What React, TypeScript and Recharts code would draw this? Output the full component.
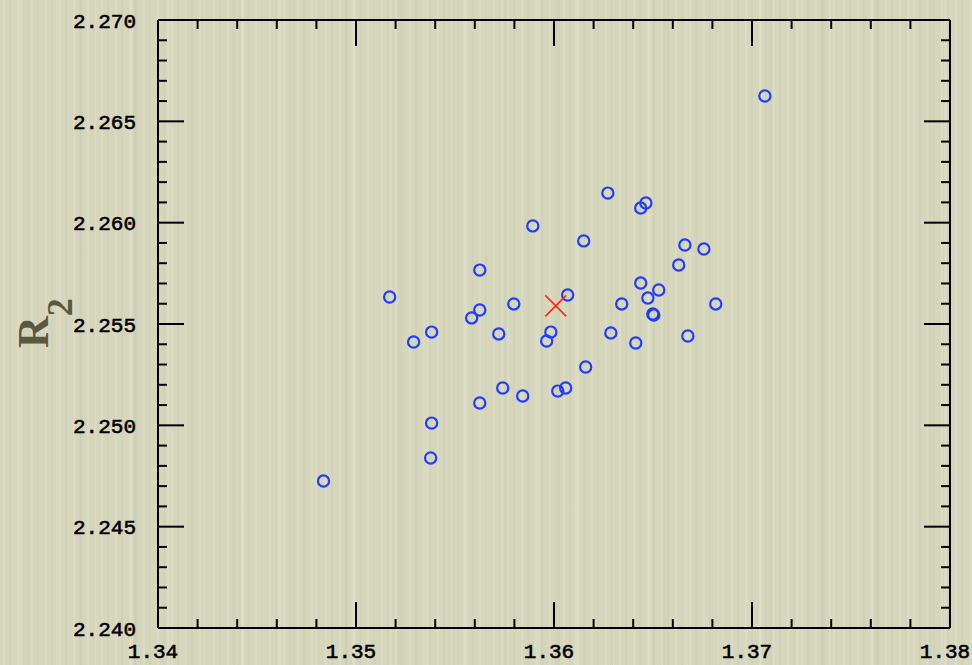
import { ScatterChart, Scatter, XAxis, YAxis } from 'recharts'

// axis labels (major ticks); minor ticks are filled in between at a fixed step
const xMajor = [1.34, 1.35, 1.36, 1.37, 1.38]
const yMajor = [2.24, 2.245, 2.25, 2.255, 2.26, 2.265, 2.27]
const X_MINOR_STEP = 0.002
const Y_MINOR_STEP = 0.001

// individual measurements
const r1Values = [
  1.37065, 1.36272, 1.36464, 1.36438, 1.35893, 1.3615, 1.36661, 1.36757, 1.3663, 1.35625,
  1.36438, 1.36529, 1.36069, 1.3517, 1.36474, 1.35797, 1.36342, 1.36817, 1.35625, 1.35584,
  1.36499, 1.36504, 1.35382, 1.35721, 1.35984, 1.36287, 1.35963, 1.36676, 1.35291, 1.36413,
  1.3616, 1.35741, 1.36059, 1.36019, 1.35842, 1.35625, 1.35382, 1.35377, 1.34836,
]
const r2Values = [
  2.26625, 2.26146, 2.26097, 2.26072, 2.25984, 2.2591, 2.2589, 2.2587, 2.25791, 2.25766,
  2.25702, 2.25668, 2.25643, 2.25633, 2.25628, 2.25599, 2.25599, 2.25599, 2.25569, 2.2553,
  2.25549, 2.25544, 2.2546, 2.25451, 2.2546, 2.25456, 2.25416, 2.25441, 2.25411, 2.25406,
  2.25288, 2.25184, 2.25184, 2.25169, 2.25145, 2.2511, 2.25011, 2.24839, 2.24725,
]

// mean value, marked with a cross
const meanR1 = [1.36009]
const meanR2 = [2.25589]

const points = r1Values.map((r1, i) => ({ r1, r2: r2Values[i] }))
const mean = meanR1.map((r1, i) => ({ r1, r2: meanR2[i] }))

const stepTicks = (vals: number[], step: number) => {
  const lo = vals[0]
  const hi = vals[vals.length - 1]
  const n = Math.round((hi - lo) / step)
  return Array.from({ length: n + 1 }, (_, i) => +(lo + i * step).toFixed(4))
}
const xTicks = stepTicks(xMajor, X_MINOR_STEP)
const yTicks = stepTicks(yMajor, Y_MINOR_STEP)

const isMajor = (v: number, majors: number[]) => majors.some((m) => Math.abs(m - v) < 1e-7)

const MAJOR = 26
const MINOR = 9
const TICK_W = 2
const INK = '#000'
const labelStyle = {
  fontFamily: '"Liberation Mono", "DejaVu Sans Mono", monospace',
  fontSize: 21,
  fill: INK,
  stroke: INK,
  strokeWidth: 0.6,
}

const BottomTick = ({ x, y, payload }: any) => {
  const major = isMajor(payload.value, xMajor)
  return (
    <g>
      <line x1={x} x2={x} y1={y} y2={y - (major ? MAJOR : MINOR)} stroke={INK} strokeWidth={TICK_W} />
      {major && (
        <text x={x - 5} y={y + 30} textAnchor="middle" {...labelStyle}>
          {payload.value.toFixed(2)}
        </text>
      )}
    </g>
  )
}

const TopTick = ({ x, y, payload }: any) => {
  const major = isMajor(payload.value, xMajor)
  return <line x1={x} x2={x} y1={y} y2={y + (major ? MAJOR : MINOR)} stroke={INK} strokeWidth={TICK_W} />
}

const LeftTick = ({ x, y, payload }: any) => {
  const major = isMajor(payload.value, yMajor)
  return (
    <g>
      <line x1={x} x2={x + (major ? MAJOR : MINOR)} y1={y} y2={y} stroke={INK} strokeWidth={TICK_W} />
      {major && (
        <text x={x - 22} y={y + 7.5} textAnchor="end" {...labelStyle}>
          {payload.value.toFixed(3)}
        </text>
      )}
    </g>
  )
}

const RightTick = ({ x, y, payload }: any) => {
  const major = isMajor(payload.value, yMajor)
  return <line x1={x} x2={x - (major ? MAJOR : MINOR)} y1={y} y2={y} stroke={INK} strokeWidth={TICK_W} />
}

const OpenCircle = ({ cx, cy }: any) => (
  <circle cx={cx} cy={cy} r={5.6} fill="none" stroke="#1f3cff" strokeWidth={2.2} />
)

const Cross = ({ cx, cy }: any) => {
  const h = 10.5
  return (
    <g stroke="#ff2a12" strokeWidth={1.7}>
      <line x1={cx - h} y1={cy - h} x2={cx + h} y2={cy + h} />
      <line x1={cx - h} y1={cy + h} x2={cx + h} y2={cy - h} />
    </g>
  )
}

// soft vertical fibres of the paper backdrop
const paper = [
  'repeating-linear-gradient(90deg, transparent 0px 3px, rgba(250,250,232,0.16) 3px 5px, transparent 5px 9px, rgba(120,120,90,0.05) 9px 11px, transparent 11px 14px)',
  'repeating-linear-gradient(90deg, transparent 0px 19px, rgba(250,250,232,0.14) 19px 22px, transparent 22px 37px)',
  'repeating-linear-gradient(90deg, transparent 0px 27px, rgba(130,130,100,0.05) 27px 30px, transparent 30px 53px)',
  '#d6d6bd',
].join(', ')

const axisProps = {
  type: 'number' as const,
  interval: 0 as const,
  allowDataOverflow: true,
  tickSize: 0,
  tickMargin: 0,
  tickLine: false,
  axisLine: { stroke: INK, strokeWidth: 2 },
}

export default function App() {
  return (
    <div style={{ position: 'absolute', left: 0, top: 0, width: 972, height: 665, background: paper }}>
      <ScatterChart width={972} height={665} margin={{ top: 19, right: 21, bottom: 0, left: 0 }}>
        <XAxis
          {...axisProps}
          xAxisId="b"
          dataKey="r1"
          orientation="bottom"
          domain={[1.34, 1.38]}
          ticks={xTicks}
          height={37}
          tick={<BottomTick />}
        />
        <XAxis
          {...axisProps}
          xAxisId="t"
          dataKey="r1"
          orientation="top"
          domain={[1.34, 1.38]}
          ticks={xTicks}
          height={1}
          tick={<TopTick />}
        />
        <YAxis
          {...axisProps}
          yAxisId="l"
          dataKey="r2"
          orientation="left"
          domain={[2.24, 2.27]}
          ticks={yTicks}
          width={158}
          tick={<LeftTick />}
        />
        <YAxis
          {...axisProps}
          yAxisId="r"
          dataKey="r2"
          orientation="right"
          domain={[2.24, 2.27]}
          ticks={yTicks}
          width={1}
          tick={<RightTick />}
        />
        <Scatter xAxisId="b" yAxisId="l" data={points} shape={<OpenCircle />} isAnimationActive={false} />
        <Scatter xAxisId="b" yAxisId="l" data={mean} shape={<Cross />} isAnimationActive={false} />
      </ScatterChart>
      <svg width={972} height={665} style={{ position: 'absolute', left: 0, top: 0, pointerEvents: 'none' }}>
        <text
          transform="translate(48, 348) rotate(-90)"
          fontFamily='"Liberation Serif", "DejaVu Serif", serif'
          fontWeight="bold"
          fontSize={44}
          fill="#5a5841"
        >
          R
          <tspan fontSize={36} dy={24}>
            2
          </tspan>
        </text>
      </svg>
    </div>
  )
}
